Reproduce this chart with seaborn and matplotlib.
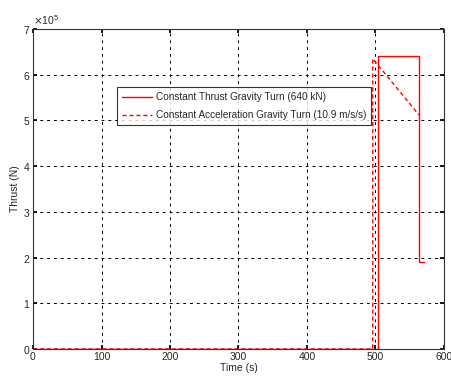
import numpy as np
import pandas as pd
import matplotlib
matplotlib.use("Agg")
import matplotlib.pyplot as plt
import seaborn as sns
from matplotlib.ticker import ScalarFormatter

# Data
time_const_thrust = [0, 503.5, 503.5, 563.5, 563.5, 571]
thrust_const_thrust = [0, 0, 6.4e5, 6.4e5, 1.9e5, 1.9e5]
time_const_accel = [0, 496, 496, 563.5]
thrust_const_accel = [0, 0, 6.35e5, 5.12e5]
label_thrust = "Constant Thrust Gravity Turn (640 kN)"
label_accel = "Constant Acceleration Gravity Turn (10.9 m/s/s)"

sns.set_theme(style="white")
plt.rcParams['font.family'] = ['Liberation Sans', 'DejaVu Sans']

fig = plt.figure(figsize=(4.51, 3.83), dpi=100)
ax = fig.add_axes([33/451, 1-349/383, (444-33)/451, (349-29)/383])

df1 = pd.DataFrame({"t": time_const_thrust, "F": thrust_const_thrust})
df2 = pd.DataFrame({"t": time_const_accel, "F": thrust_const_accel})
sns.lineplot(data=df1, x="t", y="F", sort=False, estimator=None, ax=ax,
             color="red", lw=1.0, label=label_thrust)
sns.lineplot(data=df2, x="t", y="F", sort=False, estimator=None, ax=ax,
             color="red", lw=1.0, linestyle=(0, (3, 2)), label=label_accel)

ax.set_xlim(0, 600)
ax.set_ylim(0, 7e5)
ax.set_xticks(np.arange(0, 601, 100))
ax.set_yticks(np.arange(0, 7.01e5, 1e5))
fmt = ScalarFormatter(useMathText=True)
fmt.set_powerlimits((0, 0))
ax.yaxis.set_major_formatter(fmt)
ax.yaxis.get_offset_text().set_fontsize(7.5)
ax.grid(True, color="black", linestyle=(0, (3, 4)), linewidth=0.7)
ax.tick_params(direction="in", length=3, labelsize=7.5, color="black",
               left=True, bottom=True, top=True, right=True, pad=2)
for s in ax.spines.values():
    s.set_color("#333333")
    s.set_linewidth(0.8)
ax.set_xlabel("Time (s)", fontsize=7.5, labelpad=1)
ax.set_ylabel("Thrust (N)", fontsize=7.5, labelpad=2)

leg = ax.legend(loc="upper left", bbox_to_anchor=((117-33)/411, (349-87)/320),
                fontsize=7.2, frameon=True, fancybox=False, borderpad=0.5,
                handlelength=3.0, handletextpad=0.4, labelspacing=0.8,
                borderaxespad=0)
leg.get_frame().set_edgecolor("black")
leg.get_frame().set_linewidth(0.8)

fig.savefig("out.png", dpi=100)
